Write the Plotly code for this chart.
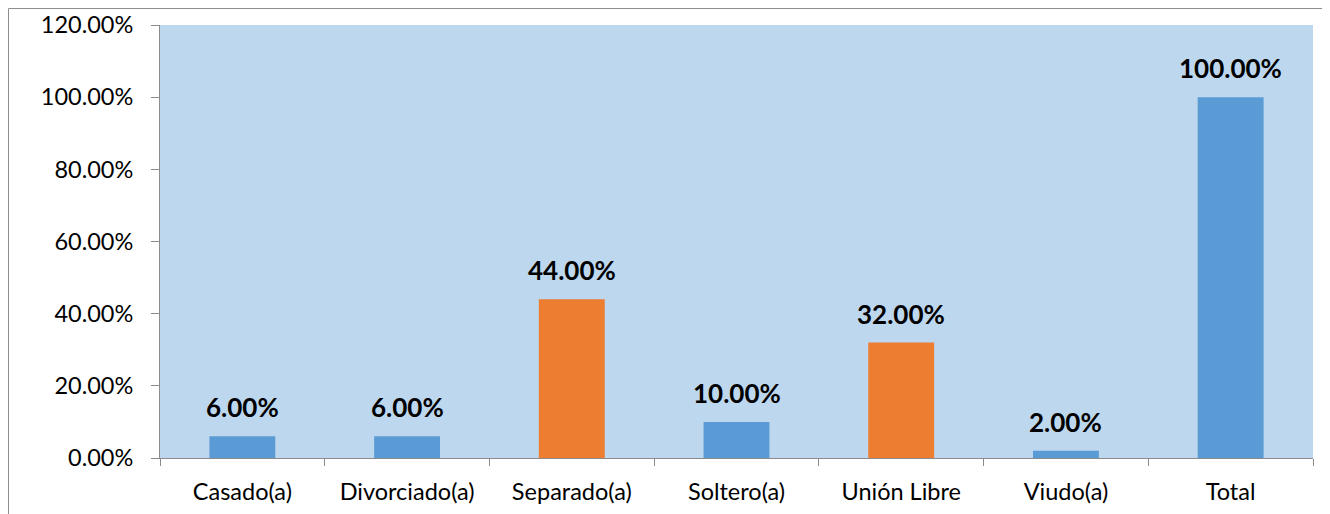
import plotly.graph_objects as go

# estado civil - porcentajes
categories = ["Casado(a)", "Divorciado(a)", "Separado(a)", "Soltero(a)", "Unión Libre", "Viudo(a)", "Total"]
values = [0.06, 0.06, 0.44, 0.10, 0.32, 0.02, 1.00]
highlight = [False, False, True, False, True, False, False]

BLUE = "#5B9BD5"
ORANGE = "#ED7D31"
colors = [ORANGE if h else BLUE for h in highlight]

fig = go.Figure()
fig.add_trace(go.Bar(
    x=categories,
    y=values,
    marker=dict(color=colors, line=dict(width=0)),
    width=0.4,
    showlegend=False,
    hoverinfo="x+y"
))

# data labels above the bars
for c, v in zip(categories, values):
    fig.add_annotation(
        x=c, y=v,
        text=f"{v * 100:.2f}%",
        showarrow=False,
        yanchor="bottom",
        yshift=11,
        font=dict(family="Lato, sans-serif", size=26, color="#000000", weight="bold")
    )

# page body has an 8px margin, so the layout is shifted up/left by 8px
fig.update_layout(
    width=1330,
    height=514,
    margin=dict(l=152, r=25, t=17, b=64),
    paper_bgcolor="#FFFFFF",
    plot_bgcolor="#BDD7EE",
    font=dict(family="Lato, sans-serif", size=23.5, color="#000000"),
)
fig.update_xaxes(
    automargin=False,
    showline=True,
    linecolor="#8C8C8C",
    linewidth=1,
    ticks="outside",
    tickson="boundaries",
    ticklen=7,
    tickcolor="#8C8C8C",
    ticklabelstandoff=13,
    showgrid=False,
)
fig.update_yaxes(
    automargin=False,
    range=[0, 1.2],
    dtick=0.2,
    tickformat=".2%",
    showline=True,
    linecolor="#8C8C8C",
    linewidth=1,
    ticks="outside",
    ticklen=8,
    tickcolor="#8C8C8C",
    ticklabelstandoff=13,
    showgrid=False,
    zeroline=False,
)

# outer chart frame
fig.add_shape(
    type="rect", xref="paper", yref="paper",
    x0=-0.1314, x1=1.0121, y0=-0.3, y1=1.038,
    line=dict(color="#8C8C8C", width=1),
    fillcolor="rgba(0,0,0,0)",
    layer="below"
)

fig.write_html("out.html")
